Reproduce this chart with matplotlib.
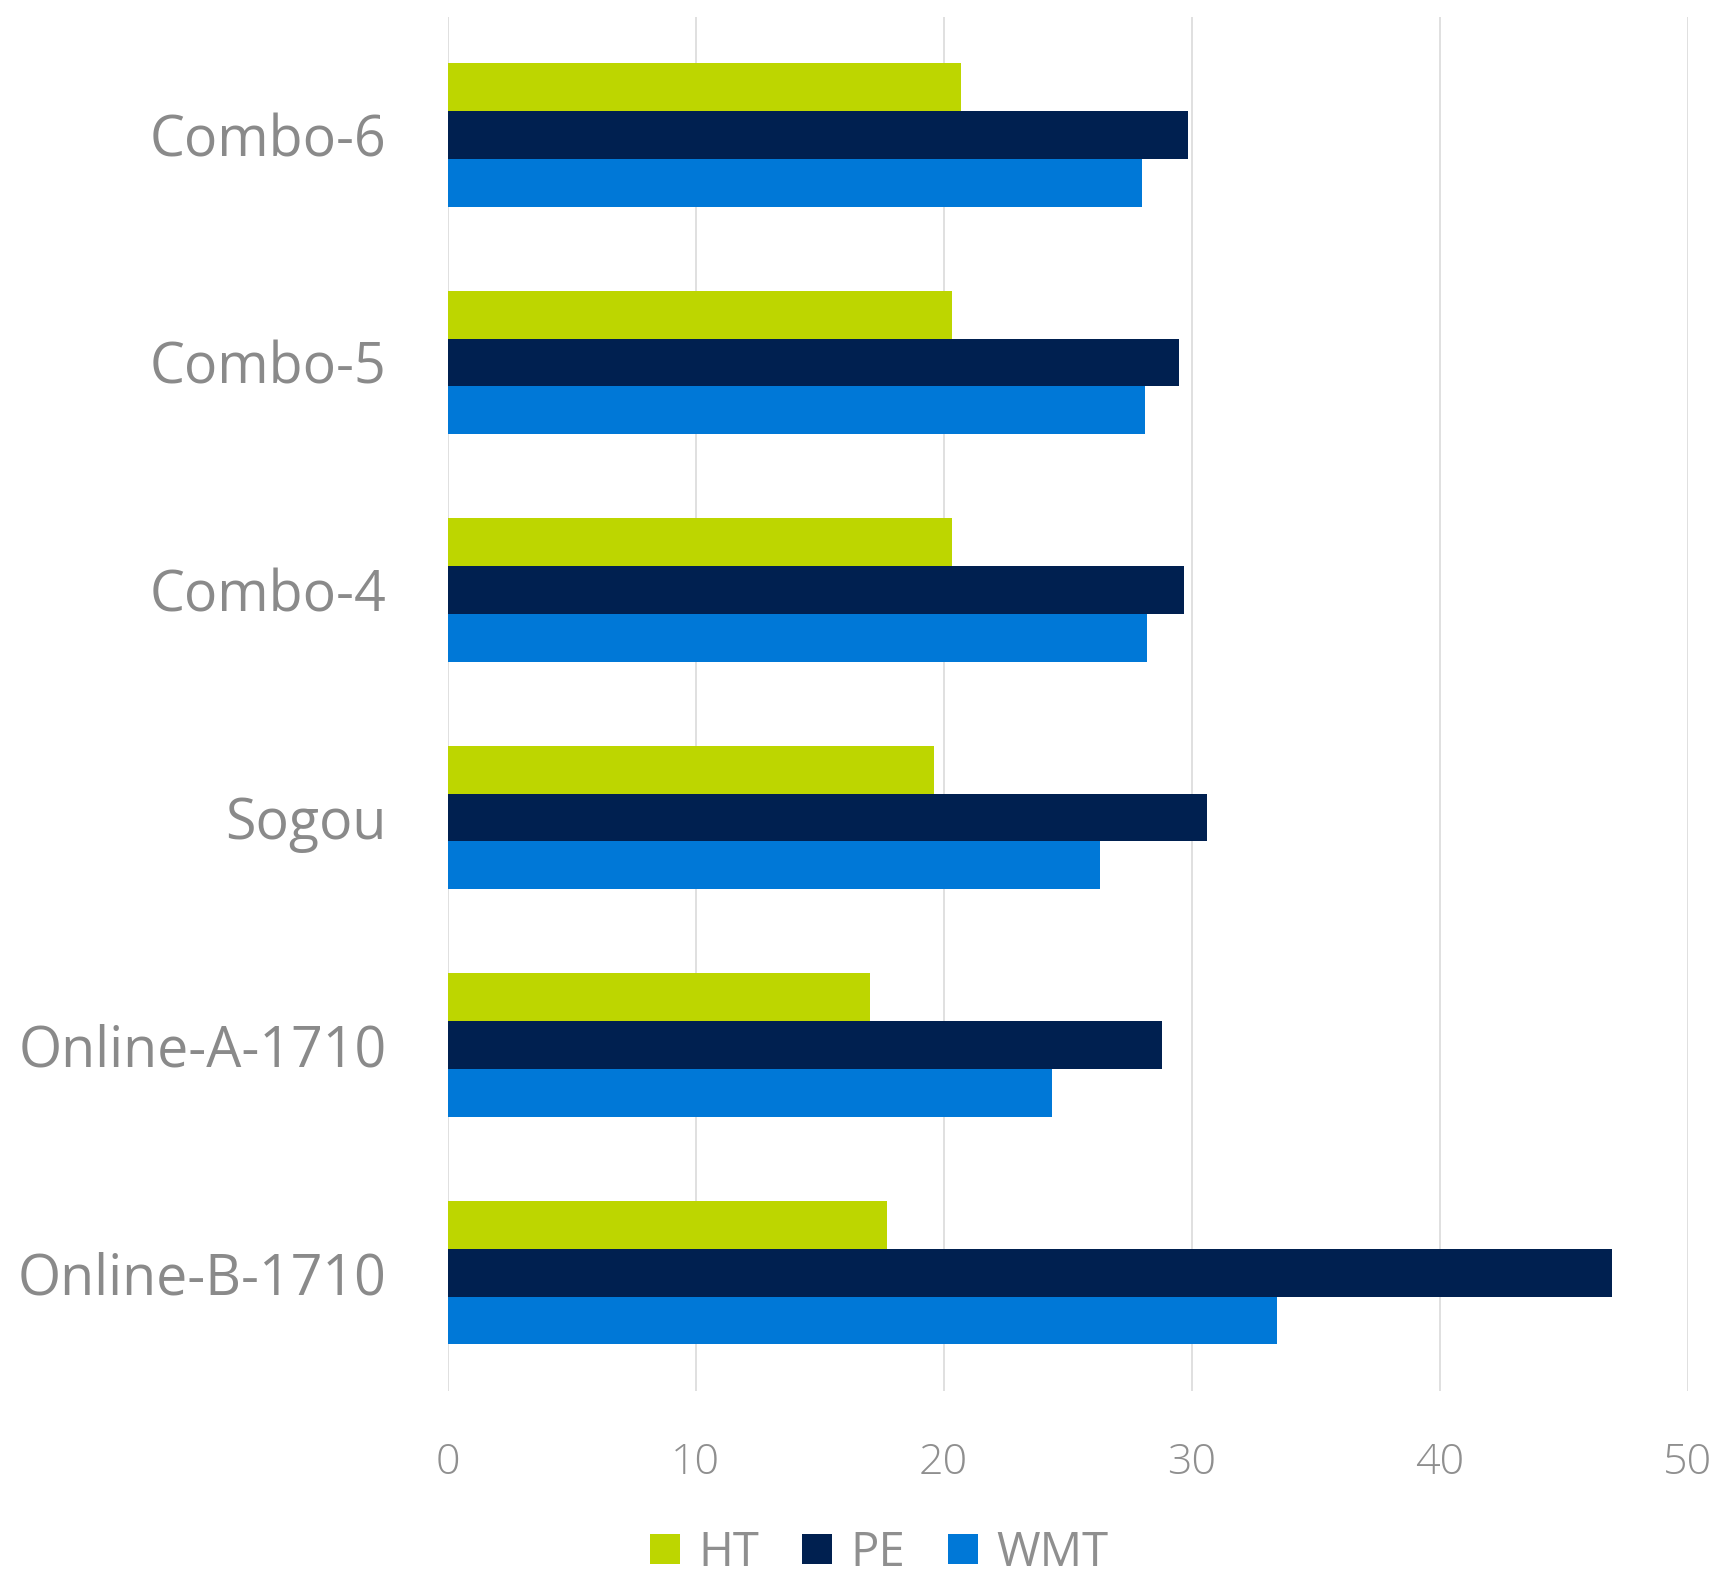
import numpy as np
import matplotlib.pyplot as plt

# scores per system
systems = ["Combo-6", "Combo-5", "Combo-4", "Sogou", "Online-A-1710", "Online-B-1710"]
ht = [20.7, 20.35, 20.35, 19.6, 17.05, 17.7]
pe = [29.85, 29.5, 29.7, 30.6, 28.8, 46.95]
wmt = [28.0, 28.1, 28.2, 26.3, 24.35, 33.45]
xticks = [0, 10, 20, 30, 40, 50]

colors = {"HT": "#BDD600", "PE": "#002050", "WMT": "#0078D7"}

plt.rcParams['font.family'] = ['Open Sans', 'DejaVu Sans']

fig = plt.figure(figsize=(17.24, 15.75), dpi=100)
ax = fig.add_axes([0.2596, 0.1168, 0.7194, 0.8727])

y = np.arange(len(systems))
h = 0.21
ax.barh(y - h, ht, height=h, color=colors["HT"], label="HT", zorder=3)
ax.barh(y, pe, height=h, color=colors["PE"], label="PE", zorder=3)
ax.barh(y + h, wmt, height=h, color=colors["WMT"], label="WMT", zorder=3)

ax.set_xlim(0, 50)
ax.set_ylim(5.52, -0.52)
ax.set_xticks(xticks)
ax.set_yticks(y)
ax.set_yticklabels(systems)
ax.grid(axis="x", color="#dadada", linewidth=1.2, zorder=0)
for s in ax.spines.values():
    s.set_visible(False)
ax.tick_params(axis="y", length=0, pad=44, labelsize=40, labelcolor="#8a8a8a")
ax.tick_params(axis="x", length=0, pad=36, labelsize=31, labelcolor="#8f8f8f")
for t in ax.get_xticklabels():
    t.set_fontweight("light")

fig.legend(loc="lower center", bbox_to_anchor=(0.51, -0.028), ncol=3, frameon=False,
           fontsize=34, labelcolor="#8f8f8f", handlelength=0.63, handleheight=0.63,
           handletextpad=0.4, columnspacing=0.9)

fig.savefig("out.png", dpi=100)
